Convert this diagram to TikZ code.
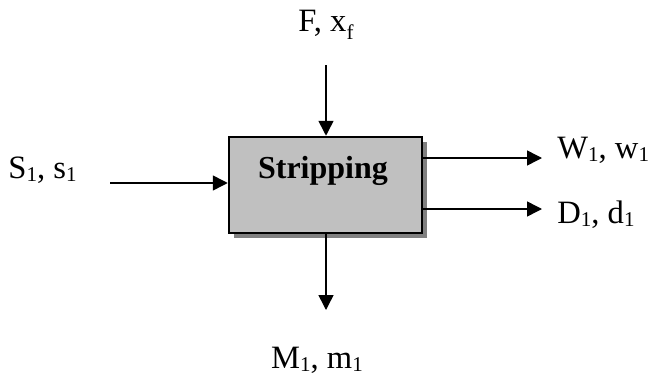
\documentclass[tikz,border=0pt]{standalone}
\usepackage{fontspec}
\setmainfont{Liberation Serif}
\usepackage{graphicx}
\usepackage{xcolor}
\usepackage{tikz}
\usetikzlibrary{arrows.meta, positioning, shadows}

\definecolor{boxgray}{HTML}{C0C0C0}
\definecolor{shadowgray}{HTML}{808080}
\newcommand{\ix}[1]{\raisebox{-0.1em}{\fontsize{10.5}{10.5}\selectfont #1}}

\begin{document}
\begin{tikzpicture}[
    x=0.5pt, y=0.5pt,
    unitbox/.style={rectangle, draw=black, line width=1.25pt, fill=boxgray, inner sep=0pt,
      minimum width=96.5pt, minimum height=48pt,
      drop shadow={shadow xshift=2.5pt, shadow yshift=-2.5pt, fill=shadowgray, opacity=1}},
    streamlabel/.style={font=\fontsize{16.3}{19}\selectfont, inner sep=0pt},
    flow/.style={-{Triangle[length=7.5pt, width=7.5pt]}, line width=0.75pt}
  ]
  \useasboundingbox (0,0) rectangle (648,-375);

  % Stripping unit
  \node[unitbox] (strip) at (325.5,-185) {};
  \node[font=\fontsize{16}{19}\selectfont\bfseries, anchor=base] (stripname) at (323,-178) {Stripping};

  % Stream labels
  \node[streamlabel, anchor=base] (feedlbl) at (326,-32) {F, x\raisebox{-0.12em}{\ix{f}}};
  \node[streamlabel, anchor=base west] (solvlbl) at (8,-178) {S\ix{1}, s\ix{1}};
  \node[streamlabel, anchor=base west] (wlbl) at (557,-158) {W\ix{1}, w\ix{1}};
  \node[streamlabel, anchor=base west] (dlbl) at (557,-223) {D\ix{1}, d\ix{1}};
  \node[streamlabel, anchor=base] (mlbl) at (317,-368) {M\ix{1}, m\ix{1}};

  % Free ends of the streams
  \coordinate (fstart) at (326,-65);
  \coordinate (sstart) at (110,-183);
  \coordinate (wend) at (542,-158);
  \coordinate (dend) at (542,-209);
  \coordinate (mend) at (326,-310);

  % Streams
  \draw[flow] (fstart) -- (fstart |- strip.north);
  \draw[flow] (sstart) -- (sstart -| strip.west);
  \draw[flow] (strip.east |- wend) -- (wend);
  \draw[flow] (strip.east |- dend) -- (dend);
  \draw[flow] (mend |- strip.south) -- (mend);
\end{tikzpicture}
\end{document}
